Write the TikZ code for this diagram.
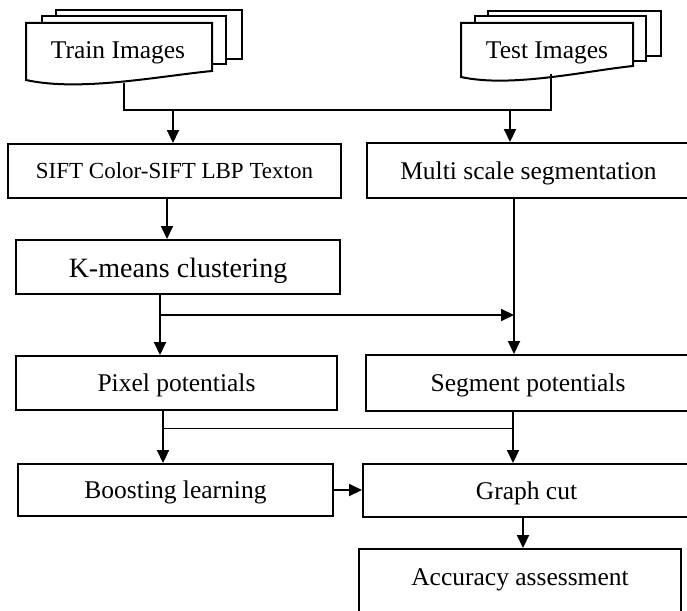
\documentclass[tikz,border=0pt]{standalone}
\usepackage{fontspec}
\setmainfont{Liberation Serif}
\usetikzlibrary{arrows.meta}
\begin{document}
\begin{tikzpicture}[x=1pt,y=-1pt,
  box/.style={draw,line width=2pt,inner sep=0pt,text height=17pt,text depth=0pt,font=\fontsize{25.5}{30}\selectfont},
  lbl/.style={inner sep=0pt,text height=17pt,text depth=0pt,font=\fontsize{25.5}{30}\selectfont},
  conn/.style={line width=2pt},
  thinconn/.style={line width=1pt},
  arr/.style={line width=2pt,-{Triangle[length=13pt,width=12pt]}},
  sheet/.style={draw,line width=2pt,fill=white,line join=miter}]
\useasboundingbox (0,0) rectangle (687,610);
\clip (0,0) rectangle (687,610);
% Train images (stacked documents)
\draw[sheet] (56,10) rectangle (242,59);
\draw[sheet] (42,16) rectangle (226,64);
\draw[sheet] (26,23) -- (212,23) -- (212,71) .. controls (160,76) and (80,92) .. (26,80) -- cycle;
\node[lbl] (train) at (118,50) {Train Images};
% Test images (stacked documents)
\draw[sheet] (488,11) rectangle (661,56);
\draw[sheet] (475,16) rectangle (646,61);
\draw[sheet] (461,23) -- (633,23) -- (633,66) .. controls (585,71) and (511,88) .. (461,77) -- cycle;
\node[lbl] (test) at (547,50) {Test Images};
% boxes
\node[box,minimum width=333pt,minimum height=54pt,text height=14pt,font=\fontsize{23}{28}\selectfont] (sift) at (174.5,171) {SIFT Color-SIFT LBP Texton};
\node[box,minimum width=324pt,minimum height=54pt,text height=20pt,font=\fontsize{28}{32}\selectfont] (km) at (178,267) {K-means clustering};
\node[box,minimum width=323pt,minimum height=55pt] (ms) at (528.5,170.5) {Multi scale segmentation};
\node[box,minimum width=321pt,minimum height=54pt] (px) at (176.5,383) {Pixel potentials};
\node[box,minimum width=324pt,minimum height=56pt] (sg) at (528,383) {Segment potentials};
\node[box,minimum width=315pt,minimum height=52pt] (bl) at (175.5,490) {Boosting learning};
\node[box,minimum width=327pt,minimum height=53pt] (gc) at (526.5,490.5) {Graph cut};
\node[box,minimum width=322pt,minimum height=90pt,anchor=north] (acc) at (520,548) {};
\node[lbl] (acct) at (520,577) {Accuracy assessment};
% connectors
\coordinate (trb) at (124,83);
\coordinate (teb) at (551,74);
\coordinate (bus1) at (0,110);
\draw[conn] (trb) -- (trb |- bus1) -- (teb |- bus1) -- (teb);
\coordinate (a1) at (173,110);
\draw[arr] (a1) -- (a1 |- sift.north);
\coordinate (a2) at (510,110);
\draw[arr] (a2) -- (a2 |- ms.north);
\coordinate (a3) at (167,0);
\draw[arr] (a3 |- sift.south) -- (a3 |- km.north);
\coordinate (a4) at (160,0);
\draw[arr] (a4 |- km.south) -- (a4 |- px.north);
\coordinate (a5) at (514,0);
\draw[arr] (a5 |- ms.south) -- (a5 |- sg.north);
\coordinate (bus2) at (0,315);
\draw[arr] (a4 |- bus2) -- (a5 |- bus2);
\coordinate (a6) at (163,0);
\draw[arr] (a6 |- px.south) -- (a6 |- bl.north);
\coordinate (a7) at (513,0);
\draw[arr] (a7 |- sg.south) -- (a7 |- gc.north);
\coordinate (bus3) at (0,428);
\draw[thinconn] (a6 |- bus3) -- (a7 |- bus3);
\draw[arr] (bl.east) -- (bl.east -| gc.west);
\coordinate (a8) at (523,0);
\draw[arr] (a8 |- gc.south) -- (a8 |- acc.north);
\end{tikzpicture}
\end{document}
